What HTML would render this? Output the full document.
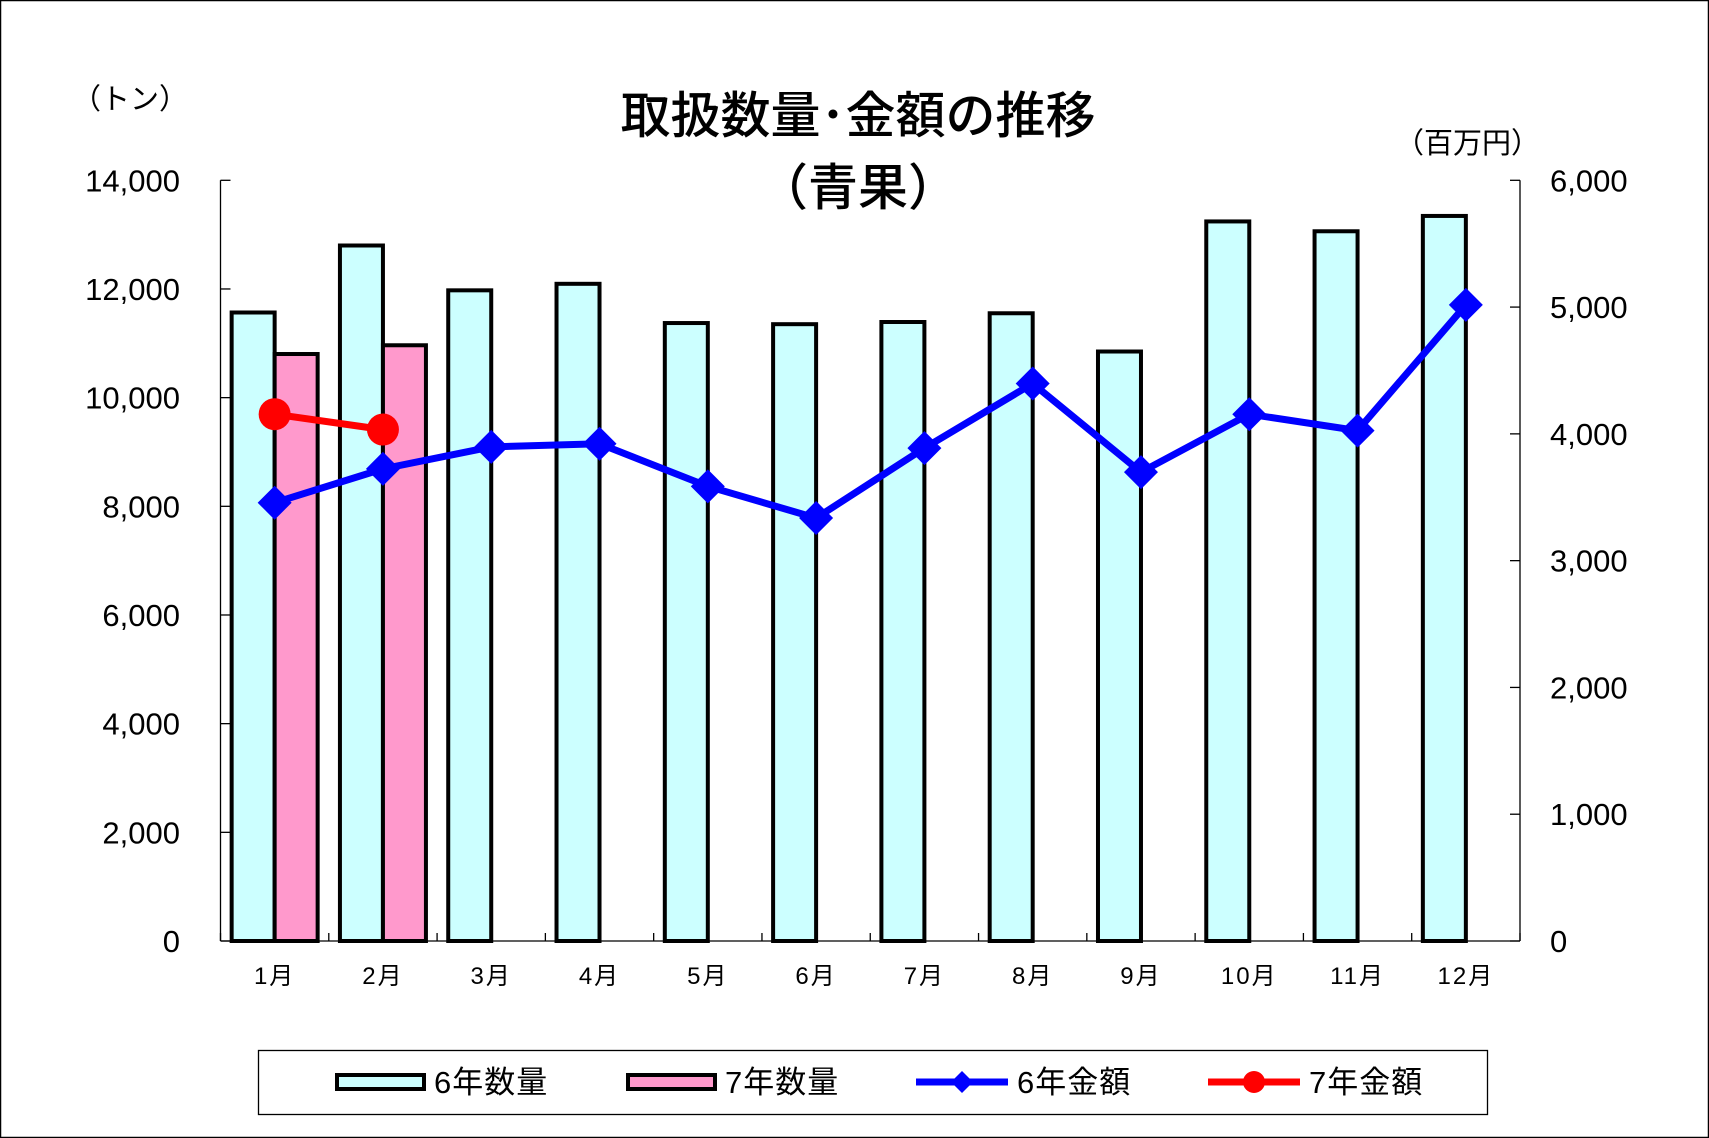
<!DOCTYPE html>
<html><head><meta charset="utf-8"><style>
html,body{margin:0;padding:0;background:#fff}
svg{display:block}
text{font-family:"Liberation Sans","Noto Sans CJK JP",sans-serif;fill:#000}
</style></head><body>
<svg id="s" width="1709" height="1138" xmlns="http://www.w3.org/2000/svg"></svg>
<script>
const s=document.getElementById('s');let h='';
h+='<rect x="0.5" y="0.5" width="1708" height="1137" fill="#fff" stroke="#000" stroke-width="1.5"/>';
const L=220.5,R=1520,T=180.3,B=941,H=B-T,cw=(R-L)/12,bw=43;
h+=`<line x1="${L}" y1="${T}" x2="${L}" y2="${B}" stroke="#000" stroke-width="1.3"/>`;
h+=`<line x1="${R}" y1="${T}" x2="${R}" y2="${B}" stroke="#000" stroke-width="1.3"/>`;
h+=`<line x1="${L}" y1="${B}" x2="${R}" y2="${B}" stroke="#000" stroke-width="1.3"/>`;
for(let i=0;i<=7;i++){const y=B-i*H/7;h+=`<line x1="${L}" y1="${y}" x2="${L+10}" y2="${y}" stroke="#000" stroke-width="1.3"/>`;
h+=`<text x="180" y="${y+11}" font-size="31" text-anchor="end">${(i*2000).toLocaleString('en-US')}</text>`;}
for(let i=0;i<=6;i++){const y=B-i*H/6;h+=`<line x1="${R-10}" y1="${y}" x2="${R}" y2="${y}" stroke="#000" stroke-width="1.3"/>`;
h+=`<text x="1550" y="${y+11}" font-size="31">${(i*1000).toLocaleString('en-US')}</text>`;}
for(let i=0;i<=12;i++){const x=L+i*cw;h+=`<line x1="${x}" y1="${B}" x2="${x}" y2="${B-8}" stroke="#000" stroke-width="1.3"/>`;}
const q6=[11567,12800,11975,12095,11373,11352,11392,11553,10849,13243,13062,13344],q7=[10803,10964];
const a6=[3457,3724,3897,3922,3586,3336,3888,4397,3698,4155,4026,5017],a7=[4155,4034];
const yl=v=>B-v/14000*H,yr=v=>B-v/6000*H,cx=i=>L+cw*(i+0.5);
q6.forEach((v,i)=>{h+=`<rect x="${cx(i)-bw}" y="${yl(v)}" width="${bw}" height="${B-yl(v)}" fill="#ccffff" stroke="#000" stroke-width="4"/>`;});
q7.forEach((v,i)=>{h+=`<rect x="${cx(i)}" y="${yl(v)}" width="${bw}" height="${B-yl(v)}" fill="#ff99cc" stroke="#000" stroke-width="4"/>`;});
for(let i=0;i<12;i++)h+=`<text x="${cx(i)}" y="984" font-size="24" text-anchor="middle" letter-spacing="2">${i+1}月</text>`;
h+=`<polyline fill="none" stroke="#0000ff" stroke-width="7" points="${a6.map((v,i)=>cx(i)+','+yr(v)).join(' ')}"/>`;
a6.forEach((v,i)=>{const x=cx(i),y=yr(v);h+=`<polygon points="${x},${y-17} ${x+17},${y} ${x},${y+17} ${x-17},${y}" fill="#0000ff"/>`;});
h+=`<polyline fill="none" stroke="#ff0000" stroke-width="7" points="${a7.map((v,i)=>cx(i)+','+yr(v)).join(' ')}"/>`;
a7.forEach((v,i)=>{h+=`<circle cx="${cx(i)}" cy="${yr(v)}" r="16" fill="#ff0000"/>`;});
h+=`<text x="858" y="133" font-size="50" font-weight="500" text-anchor="middle">取扱数量･金額の推移</text>`;
h+=`<text x="858" y="205" font-size="50" font-weight="500" text-anchor="middle">（青果）</text>`;
h+=`<text x="72" y="109" font-size="29">（トン）</text>`;
h+=`<text x="1395" y="153" font-size="29">（百万円）</text>`;
h+=`<rect x="258.5" y="1050.5" width="1229" height="64" fill="#fff" stroke="#000" stroke-width="1.3"/>`;
h+=`<rect x="337" y="1075" width="87" height="14" fill="#ccffff" stroke="#000" stroke-width="4"/>`;
h+=`<text x="434" y="1093" font-size="31" letter-spacing="1">6年数量</text>`;
h+=`<rect x="628" y="1075" width="87" height="14" fill="#ff99cc" stroke="#000" stroke-width="4"/>`;
h+=`<text x="725" y="1093" font-size="31" letter-spacing="1">7年数量</text>`;
h+=`<line x1="916" y1="1082" x2="1008" y2="1082" stroke="#0000ff" stroke-width="7"/><polygon points="962,1071 973,1082 962,1093 951,1082" fill="#0000ff"/>`;
h+=`<text x="1017" y="1093" font-size="31" letter-spacing="1">6年金額</text>`;
h+=`<line x1="1208" y1="1082" x2="1300" y2="1082" stroke="#ff0000" stroke-width="7"/><circle cx="1254" cy="1082" r="11" fill="#ff0000"/>`;
h+=`<text x="1309" y="1093" font-size="31" letter-spacing="1">7年金額</text>`;
s.innerHTML=h;
</script>
</body></html>
